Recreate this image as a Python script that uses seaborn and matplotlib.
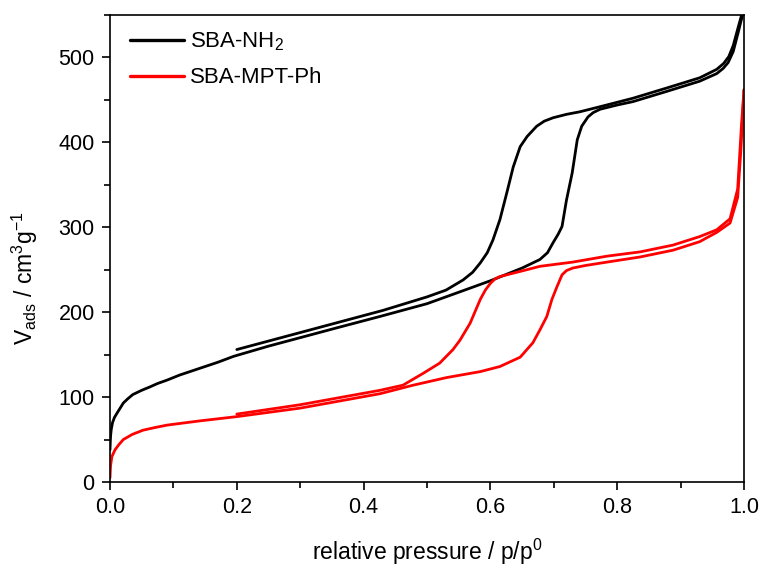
import numpy as np
import pandas as pd
import matplotlib
matplotlib.use("Agg")
import matplotlib.pyplot as plt
import seaborn as sns

# ------------------------
# Isotherm data (p/p0, V_ads in cm3/g)
# ------------------------
nh2_ads_p = [0.0, 0.0005, 0.001, 0.002, 0.004, 0.007, 0.011, 0.016, 0.021, 0.028, 0.036,
             0.05, 0.063, 0.075, 0.09, 0.11, 0.142, 0.17, 0.195,
             0.25, 0.3, 0.36, 0.426, 0.5, 0.552, 0.6, 0.65, 0.678, 0.69, 0.699, 0.707,
             0.713, 0.72, 0.729, 0.737, 0.744, 0.754, 0.762, 0.773, 0.8, 0.825, 0.878,
             0.93, 0.957, 0.967, 0.975, 0.983, 0.991, 0.997, 1.0]
nh2_ads_v = [38, 48, 55, 62, 70, 76, 81, 87, 93, 98, 103,
             108, 112, 116, 120, 126, 134, 141, 148,
             160, 170, 182, 195, 210, 224, 237, 252, 262, 270, 282, 292,
             301, 332, 364, 403, 419, 430, 435, 439, 444, 448, 460,
             472, 481, 487, 494, 507, 530, 548, 565]

nh2_des_p = [1.0, 0.997, 0.991, 0.983, 0.976, 0.968, 0.957, 0.93, 0.878, 0.825, 0.773,
             0.741, 0.72, 0.699, 0.685, 0.673, 0.658, 0.647, 0.636, 0.626, 0.615, 0.604,
             0.595, 0.584, 0.572, 0.557, 0.53, 0.5, 0.43, 0.36, 0.3, 0.25, 0.2]
nh2_des_v = [565, 552, 536, 514, 501, 493, 486, 476, 464, 452, 442,
             436, 433, 429, 425, 419, 407, 395, 371, 341, 309, 285,
             270, 258, 247, 238, 226, 218, 202, 188, 176, 166, 156]

mpt_ads_p = [0.0, 0.0005, 0.001, 0.003, 0.008, 0.014, 0.021, 0.035, 0.052, 0.07, 0.09,
             0.142, 0.2, 0.3, 0.426, 0.478, 0.531, 0.584, 0.615, 0.647, 0.667, 0.678,
             0.689, 0.697, 0.705, 0.713, 0.72, 0.73, 0.75, 0.784, 0.836, 0.888, 0.93,
             0.957, 0.978, 0.99, 0.995, 1.0]
mpt_ads_v = [5, 14, 20, 30, 38, 44, 50, 56, 61, 64, 67,
             72, 77, 87, 104, 114, 123, 130, 136, 147, 164, 179,
             195, 215, 230, 244, 249, 252, 255, 259, 265, 273, 283,
             294, 305, 335, 390, 462]

mpt_des_p = [1.0, 0.996, 0.99, 0.978, 0.957, 0.93, 0.888, 0.836, 0.784, 0.73, 0.678,
             0.647, 0.615, 0.607, 0.6, 0.592, 0.584, 0.568, 0.552, 0.541, 0.52, 0.494,
             0.462, 0.426, 0.3, 0.2]
mpt_des_v = [462, 420, 345, 310, 297, 289, 279, 271, 266, 259, 254,
             248, 242, 239, 234, 226, 215, 187, 167, 156, 140, 128,
             114, 108, 91, 80]

samples = ["SBA-NH$_2$", "SBA-MPT-Ph"]
colors = ["black", "#ff0000"]

# ------------------------
# Build long table
# ------------------------
frames = []
for name, branch, p, v in [
    (samples[0], "ads", nh2_ads_p, nh2_ads_v),
    (samples[0], "des", nh2_des_p, nh2_des_v),
    (samples[1], "ads", mpt_ads_p, mpt_ads_v),
    (samples[1], "des", mpt_des_p, mpt_des_v),
]:
    frames.append(pd.DataFrame({"sample": name, "branch": branch, "p": p, "V": v}))
df = pd.concat(frames, ignore_index=True)

# ------------------------
# Plot
# ------------------------
sns.set_style("ticks")
plt.rcParams["font.family"] = ["Liberation Sans", "DejaVu Sans"]
plt.rcParams["mathtext.fontset"] = "custom"
plt.rcParams["mathtext.rm"] = "Liberation Sans"
plt.rcParams["mathtext.it"] = "Liberation Sans:italic"
plt.rcParams["mathtext.default"] = "regular"
for key in ["text.color", "axes.labelcolor", "xtick.color", "ytick.color"]:
    plt.rcParams[key] = "black"

fig = plt.figure(figsize=(7.63, 5.67), dpi=100)
ax = fig.add_axes([110 / 763, 1 - 482 / 567, 634 / 763, 467 / 567])

sns.lineplot(data=df, x="p", y="V", hue="sample", units="branch", estimator=None,
             sort=False, palette=dict(zip(samples, colors)), hue_order=samples,
             linewidth=2.0, solid_joinstyle="round", ax=ax)

ax.set_xlim(0, 1.0)
ax.set_ylim(0, 550)
ax.set_xticks(np.arange(0, 1.01, 0.2))
ax.set_xticks(np.arange(0.1, 1.0, 0.2), minor=True)
ax.set_yticks(np.arange(0, 501, 100))
ax.set_yticks(np.arange(50, 551, 100), minor=True)
ax.xaxis.set_major_formatter(matplotlib.ticker.FormatStrFormatter("%.1f"))

for s in ax.spines.values():
    s.set_linewidth(1.2)
    s.set_color("black")
ax.tick_params(which="major", direction="out", length=6, width=1.2, labelsize=15.5, pad=5)
ax.tick_params(which="minor", direction="out", length=4, width=1.2)
ax.tick_params(top=False, right=False, which="both")

ax.set_xlabel("relative pressure / p/p$^0$", fontsize=16.5)
ax.set_ylabel("V$_{ads}$ / cm$^3$g$^{-1}$", fontsize=16.5)
ax.xaxis.set_label_coords(0.5, -0.117)
ax.yaxis.set_label_coords(-0.11, 0.437)

handles, labels = ax.get_legend_handles_labels()
for h in handles:
    h.set_linewidth(2.4)
ax.legend(handles, labels, loc="upper left", bbox_to_anchor=(0.032, 0.966),
          frameon=False, fontsize=16, handlelength=2.4, handletextpad=0.3,
          labelspacing=0.63, borderpad=0, borderaxespad=0)

plt.savefig("out.png", dpi=100)
